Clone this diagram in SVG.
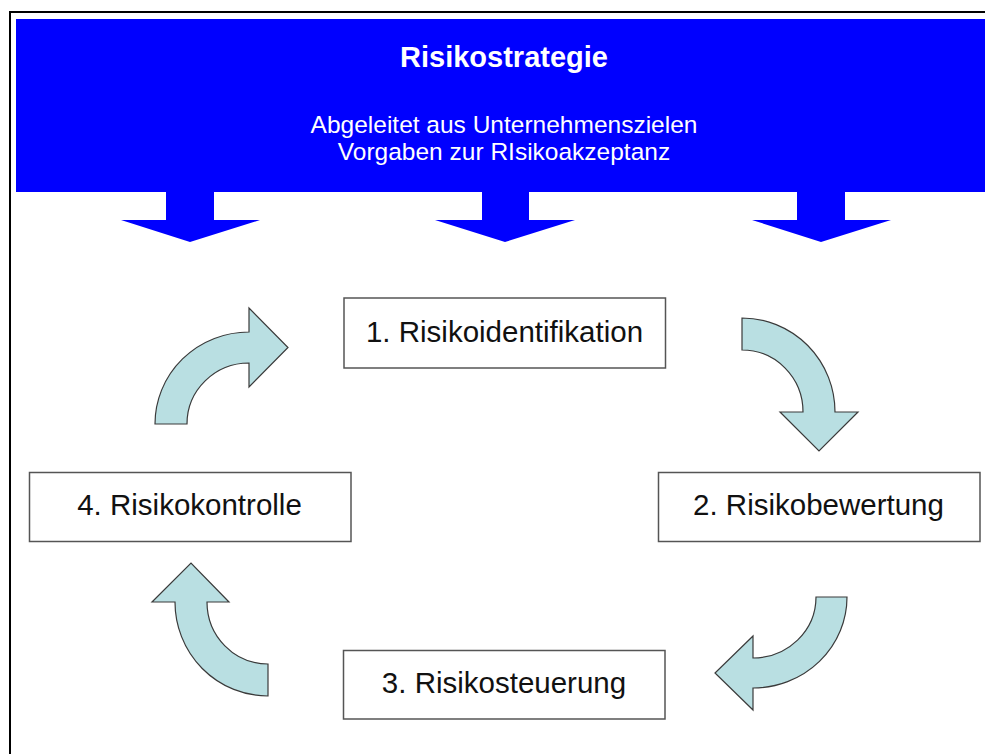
<svg xmlns="http://www.w3.org/2000/svg" width="985" height="754" viewBox="0 0 985 754">
<style>
  .box { fill: #ffffff; stroke: #555555; stroke-width: 1.5; }
  .lbl { font-family: "Liberation Sans", Arial, sans-serif; font-size: 29.5px; fill: #111111; text-anchor: middle; }
  .hdr { font-family: "Liberation Sans", Arial, sans-serif; fill: #ffffff; text-anchor: middle; }
  .blue { fill: #0000ff; }
  .cyc { fill: #b9dfe2; stroke: #3a3a3a; stroke-width: 1.2; stroke-linejoin: miter; }
</style>
<rect x="0" y="0" width="985" height="754" fill="#ffffff"/>
<rect id="frame" x="10" y="12" width="990" height="760" fill="none" stroke="#000000" stroke-width="2"/>

<g id="header">
  <rect class="blue" x="16" y="19" width="975" height="173"/>
  <text class="hdr" x="504" y="67" font-size="29" font-weight="bold">Risikostrategie</text>
  <text class="hdr" x="504" y="132.5" font-size="24.5">Abgeleitet aus Unternehmenszielen</text>
  <text class="hdr" x="504" y="160" font-size="24.5">Vorgaben zur RIsikoakzeptanz</text>
</g>

<g id="node1">
  <rect class="box" x="344" y="298" width="321.5" height="70"/>
  <text class="lbl" x="504.5" y="342">1. Risikoidentifikation</text>
</g>
<g id="node2">
  <rect class="box" x="658.5" y="472.5" width="321.5" height="69"/>
  <text class="lbl" x="818.5" y="515">2. Risikobewertung</text>
</g>
<g id="node3">
  <rect class="box" x="343.5" y="650.5" width="321.5" height="68.5"/>
  <text class="lbl" x="504" y="693">3. Risikosteuerung</text>
</g>
<g id="node4">
  <rect class="box" x="29.5" y="472.5" width="321.5" height="69"/>
  <text class="lbl" x="189.5" y="515">4. Risikokontrolle</text>
</g>

<g id="connectors">
  <polygon class="blue" points="166,190 214,190 214,220 260,220 190,242 121,220 166,220"/>
  <polygon class="blue" points="482,190 529,190 529,220 575,220 505,242 435,220 482,220"/>
  <polygon class="blue" points="797,190 845,190 845,220 891,220 821,242 752,220 797,220"/>

  <path class="cyc" d="M155,424 A94,92 0 0 1 249,332 L249,308 L288,347.5 L249,387 L249,363 A62,61 0 0 0 187,424 Z"/>
  <path class="cyc" d="M742,318 A93,94 0 0 1 835,412 L858,412 L819,451 L780,412 L803,412 A61,62 0 0 0 742,350 Z"/>
  <path class="cyc" d="M847,597 A94,91 0 0 1 753,688 L753,710 L715,673 L753,636 L753,658 A63,61 0 0 0 816,597 Z"/>
  <path class="cyc" d="M268,696 A93,94 0 0 1 175,602 L152,602 L191,563 L229,602 L207,602 A61,62 0 0 0 268,664 Z"/>
</g>
</svg>
